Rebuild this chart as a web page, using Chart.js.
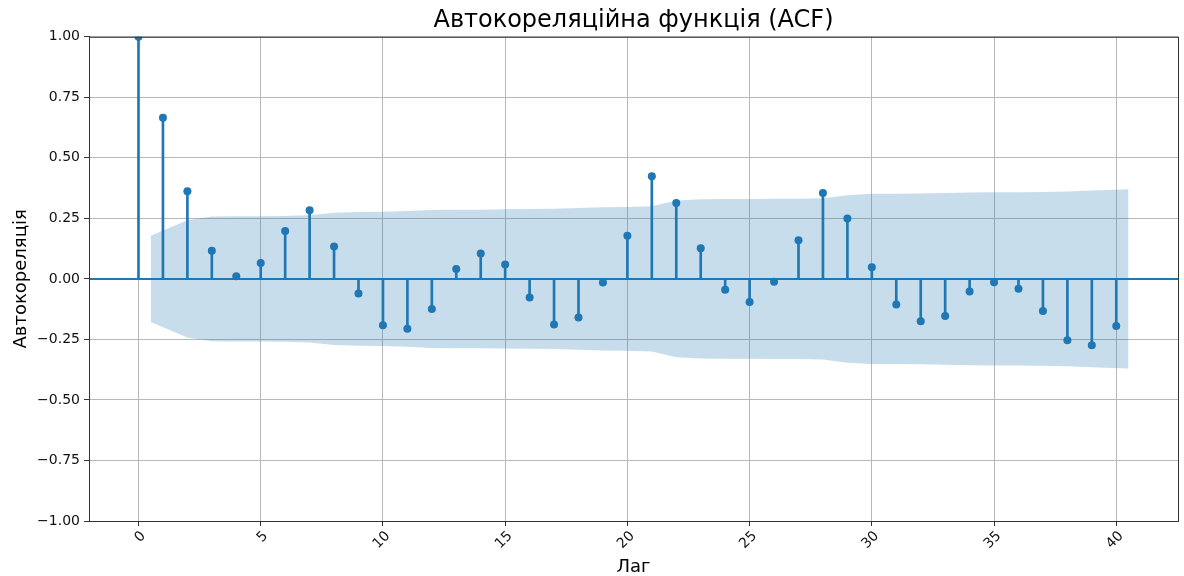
<!DOCTYPE html>
<html>
<head>
<meta charset="utf-8">
<title>ACF</title>
<script src="https://cdn.jsdelivr.net/npm/chart.js@4.4.1/dist/chart.umd.min.js"></script>
<style>
  body { margin: 0; background: #fff; }
  #wrap { width: 1184px; height: 576px; }
</style>
</head>
<body>
<div id="wrap"><canvas id="acfChart" width="1184" height="576"></canvas></div>
<script>
// lags and autocorrelation values
const lags = [0, 1, 2, 3, 4, 5, 6, 7, 8, 9, 10, 11, 12, 13, 14, 15, 16, 17, 18, 19, 20,
              21, 22, 23, 24, 25, 26, 27, 28, 29, 30, 31, 32, 33, 34, 35, 36, 37, 38, 39, 40];
const acfValues = [1.000, 0.666, 0.362, 0.116, 0.011, 0.066, 0.198, 0.284, 0.134, -0.060,
                   -0.191, -0.206, -0.124, 0.041, 0.105, 0.059, -0.077, -0.188, -0.159, -0.015,
                   0.178, 0.424, 0.313, 0.127, -0.045, -0.095, -0.012, 0.160, 0.355, 0.249,
                   0.048, -0.106, -0.175, -0.153, -0.052, -0.014, -0.041, -0.133, -0.253, -0.274,
                   -0.195];

// confidence band (half width), first and last points pushed out by half a lag
const bandLags = [0.5, 2, 3, 4, 5, 6, 7, 8, 9, 10, 11, 12, 13, 14, 15, 16, 17, 18, 19, 20,
                  21, 22, 23, 24, 25, 26, 27, 28, 29, 30, 31, 32, 33, 34, 35, 36, 37, 38, 39, 40.5];
const bandHalf = [0.178, 0.242, 0.258, 0.259, 0.259, 0.260, 0.263, 0.273, 0.276, 0.277,
                  0.280, 0.285, 0.286, 0.286, 0.288, 0.289, 0.290, 0.293, 0.296, 0.297,
                  0.300, 0.324, 0.329, 0.330, 0.330, 0.331, 0.331, 0.333, 0.346, 0.352,
                  0.352, 0.353, 0.355, 0.357, 0.358, 0.358, 0.359, 0.361, 0.365, 0.370];

const xMin = -2.025;
const xMax = 42.525;
const yMin = -1;
const yMax = 1;

const blue = '#1f77b4';
const bandColor = 'rgba(31, 119, 180, 0.25)';
const fontFamily = "'DejaVu Sans', sans-serif";

const points = lags.map((lag, i) => ({ x: lag, y: acfValues[i] }));
const upper = bandLags.map((lag, i) => ({ x: lag, y: bandHalf[i] }));
const lower = bandLags.map((lag, i) => ({ x: lag, y: -bandHalf[i] }));

function minusSign(v) {
    return v.toFixed(2).replace('-', '\u2212');
}

// full box around the plot area, like matplotlib spines
const frame = {
    id: 'frame',
    afterDraw(chart) {
        const a = chart.chartArea;
        const ctx = chart.ctx;
        ctx.save();
        ctx.strokeStyle = '#333';
        ctx.lineWidth = 1;
        ctx.strokeRect(a.left + 0.5, a.top + 0.5, a.right - a.left, a.bottom - a.top);
        ctx.restore();
    }
};

new Chart(document.getElementById('acfChart').getContext('2d'), {
    type: 'scatter',
    data: {
        datasets: [
            {
                type: 'bar',
                data: points,
                backgroundColor: blue,
                borderWidth: 0,
                barThickness: 2,
                grouped: false,
                order: 4
            },
            {
                type: 'line',
                data: upper,
                borderWidth: 0,
                pointRadius: 0,
                backgroundColor: bandColor,
                fill: '+1',
                order: 3
            },
            {
                type: 'line',
                data: lower,
                borderWidth: 0,
                pointRadius: 0,
                fill: false,
                order: 3
            },
            {
                type: 'line',
                data: [{ x: xMin, y: 0 }, { x: xMax, y: 0 }],
                borderColor: blue,
                borderWidth: 2,
                pointRadius: 0,
                fill: false,
                order: 2
            },
            {
                type: 'scatter',
                data: points,
                backgroundColor: blue,
                borderColor: blue,
                pointRadius: 4,
                borderWidth: 0,
                order: 1
            }
        ]
    },
    options: {
        responsive: false,
        animation: false,
        layout: { padding: { left: 0, right: 6, top: 0, bottom: 0 } },
        plugins: {
            legend: { display: false },
            tooltip: { enabled: false },
            title: {
                display: true,
                fullSize: false,
                text: 'Автокореляційна функція (ACF)',
                color: '#000',
                font: { family: fontFamily, size: 24, weight: 'normal', lineHeight: 1.2 },
                padding: { top: 6, bottom: 2 }
            }
        },
        scales: {
            x: {
                type: 'linear',
                min: xMin,
                max: xMax,
                offset: false,
                afterFit(scale) { scale.height = 55; },
                grid: { offset: false, color: '#b8b8b8', lineWidth: 1, tickLength: 5, tickColor: '#333' },
                border: { color: '#333', width: 1 },
                ticks: {
                    stepSize: 5,
                    includeBounds: false,
                    minRotation: 45,
                    maxRotation: 45,
                    padding: 2,
                    labelOffset: 5,
                    color: '#111',
                    font: { family: fontFamily, size: 14 }
                },
                title: {
                    display: true,
                    text: 'Лаг',
                    color: '#000',
                    font: { family: fontFamily, size: 18, lineHeight: 1.0 },
                    padding: { top: 0, bottom: 0 }
                }
            },
            y: {
                min: yMin,
                max: yMax,
                afterFit(scale) { scale.width = 89; },
                grid: { color: '#b8b8b8', lineWidth: 1, tickLength: 5, tickColor: '#333' },
                border: { color: '#333', width: 1 },
                ticks: {
                    stepSize: 0.25,
                    padding: 4,
                    color: '#111',
                    font: { family: fontFamily, size: 14 },
                    callback: (v) => minusSign(v)
                },
                title: {
                    display: true,
                    text: 'Автокореляція',
                    color: '#000',
                    font: { family: fontFamily, size: 18, lineHeight: 1.0 },
                    padding: { top: 12, bottom: 0 }
                }
            }
        }
    },
    plugins: [frame]
});
</script>
</body>
</html>
